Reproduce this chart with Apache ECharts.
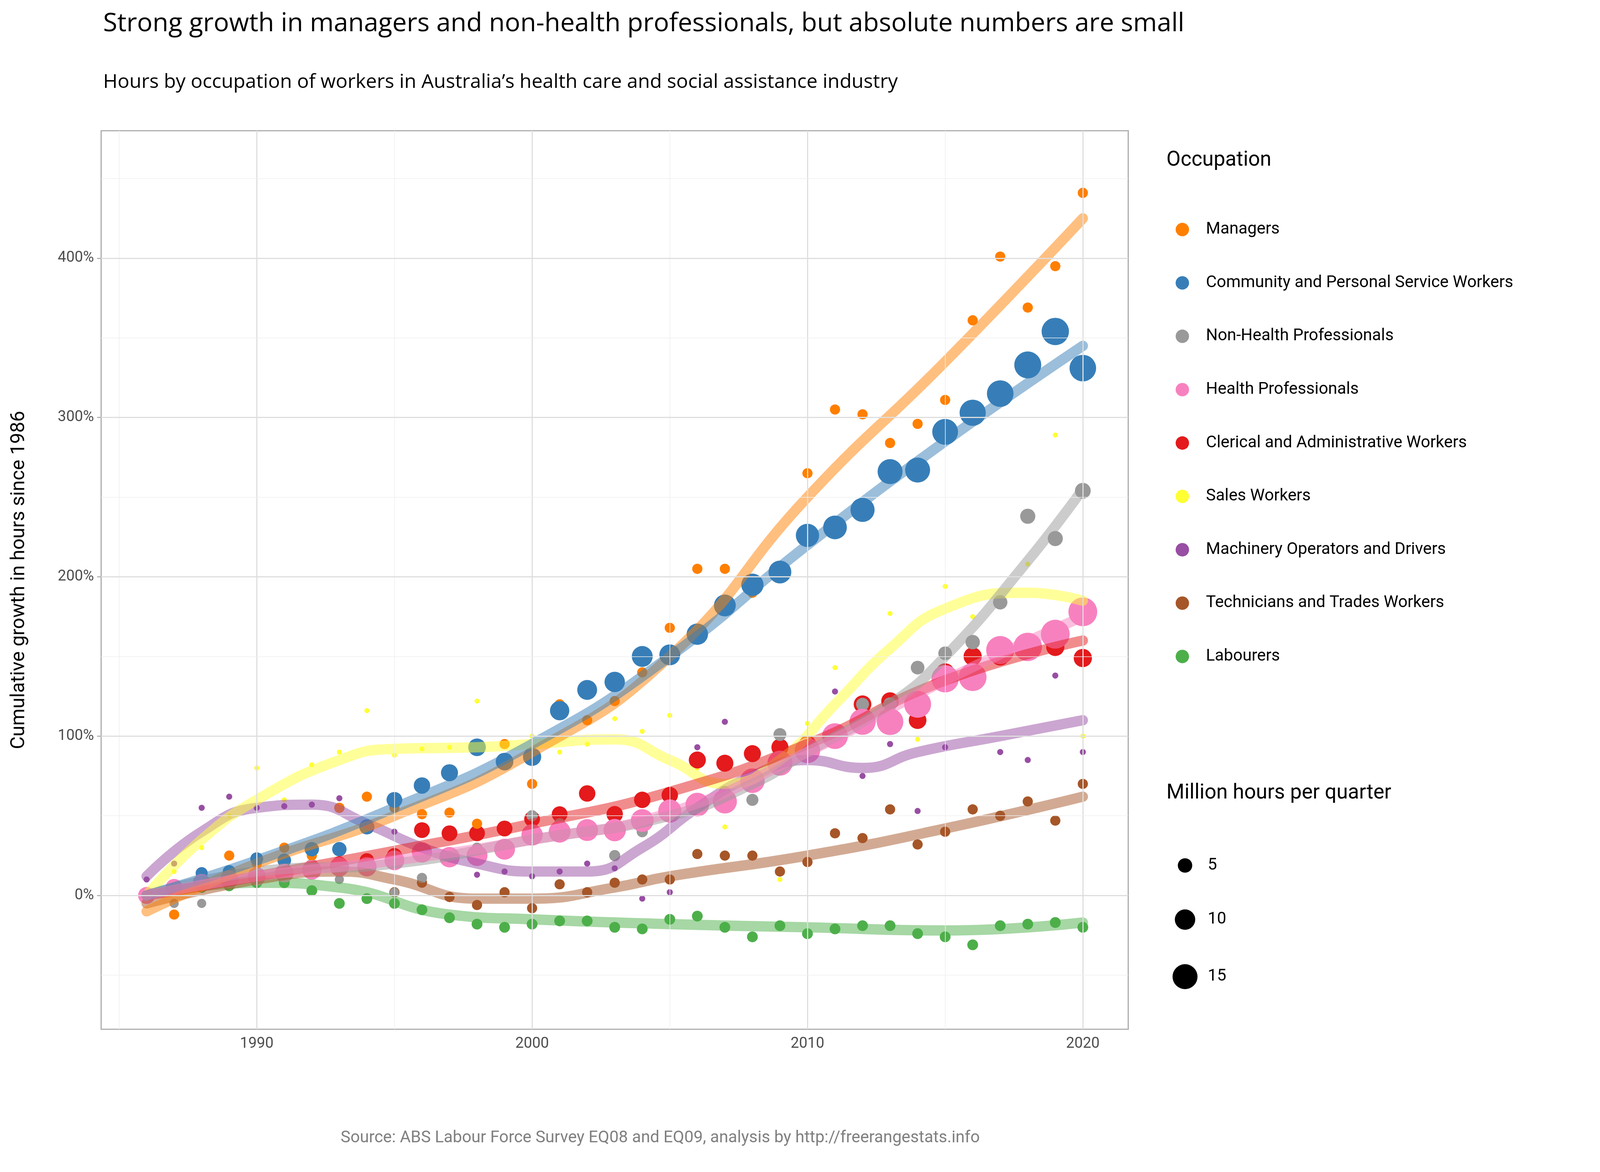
<!DOCTYPE html>
<html><head><meta charset="utf-8">
<script src="https://cdn.jsdelivr.net/npm/echarts@6/dist/echarts.min.js"></script>
<style>html,body{margin:0;padding:0;background:#fff;overflow:hidden}#c{width:100vw;height:100vh}</style>
</head><body><div id="c"></div>
<script>
var years = [];
for (var y = 1986; y <= 2020; y++) years.push(y);

var occupations = ['Managers','Community and Personal Service Workers','Non-Health Professionals','Health Professionals','Clerical and Administrative Workers','Sales Workers','Machinery Operators and Drivers','Technicians and Trades Workers','Labourers'];
var colors = ['#FF7F00','#377EB8','#999999','#F781BF','#E41A1C','#FFFF33','#984EA3','#A65628','#4DAF4A'];

// growth since 1986, %
var managers = [0,-12,10,25,20,30,25,55,62,55,51,52,45,95,70,120,110,122,140,168,205,205,190,200,265,305,302,284,296,311,361,401,369,395,441];
var community = [0,5,14,15,23,22,29,29,43,60,69,77,93,84,87,116,129,134,150,151,164,182,195,203,226,231,242,266,267,291,303,315,333,354,331];
var nonHealth = [0,-5,-5,10,20,22,20,10,20,2,11,25,30,84,50,45,40,25,40,55,60,65,60,101,95,100,120,120,143,152,159,184,238,224,254];
var health = [0,5,8,10,12,14,16,18,18,22,27,24,25,29,38,40,41,41,47,53,57,59,72,83,91,100,109,109,120,136,137,154,156,164,178];
var clerical = [0,5,8,10,12,15,18,20,22,25,41,39,39,42,48,51,64,51,60,63,85,83,89,93,95,100,120,122,110,140,150,150,155,156,149];
var sales = [0,15,30,50,80,60,82,90,116,88,92,93,122,95,100,90,95,111,103,113,80,43,70,10,108,143,105,177,98,194,175,185,208,289,100];
var machinery = [10,20,55,62,55,56,57,61,45,40,25,25,13,15,12,15,20,17,-2,2,93,109,70,85,85,128,75,95,53,93,155,90,85,138,90];
var technicians = [0,5,10,12,15,15,15,55,20,2,8,-1,-6,2,-8,7,2,8,10,10,26,25,25,15,21,39,36,54,32,40,54,50,59,47,70];
var labourers = [0,3,5,6,8,8,3,-5,-2,-5,-9,-14,-18,-20,-18,-16,-16,-20,-21,-15,-13,-20,-26,-19,-24,-21,-19,-19,-24,-26,-31,-19,-18,-17,-20];

// million hours per quarter
var sizeCommunity = [3,3,3.5,4,4,4.5,5,5,5.5,6,6.5,7,7.5,7.5,8,9,9.5,10,10.5,10.5,11,11.5,12,12.5,13,13.5,14,15,15,16,16.5,17,17.5,18,17];
var sizeHealth = [7,7,7.5,8,8,8.5,9,9,9,9.5,10,10,10.5,10.5,11,11.5,11.5,12,12.5,13,13.5,14,14.5,15,15.5,16,16.5,17,17.5,18,18.5,19,19.5,20,20];
var sizeClerical = [5,5,5,5,5,5,5,5,5,5.5,6,6,6,6,6,6,6.5,6.5,6.5,6.5,7,7,7,7,7,7.5,7.5,7.5,7.5,8,8,8,8,8,8];
var sizeNonHealth = [2,2,2,2,2,2,2,2,2,2,2.5,2.5,2.5,3,3,3,3,3,3,3.5,3.5,3.5,3.5,4,4,4,4,4.5,4.5,4.5,5,5,5.5,5.5,6];
var sizeConst = [2.5, null, null, null, null, 0.6, 0.9, 2.5, 2.8];

// smoothed trend: [year, %]
var trendManagers = [[1986,-10],[1990,20],[1995,50],[2000,90],[2005,150],[2010,250],[2015,335],[2020,425]];
var trendCommunity = [[1986,0],[1990,22],[1995,55],[2000,95],[2005,150],[2010,220],[2015,285],[2020,345]];
var trendNonHealth = [[1986,0],[1990,15],[1995,20],[2000,35],[2005,50],[2008,70],[2010,90],[2013,120],[2015,150],[2018,210],[2020,255]];
var trendHealth = [[1986,0],[1990,12],[1995,22],[2000,35],[2005,52],[2010,90],[2015,135],[2020,175]];
var trendClerical = [[1986,0],[1990,12],[1995,28],[2000,45],[2005,65],[2010,95],[2015,135],[2020,160]];
var trendSales = [[1986,0],[1988,35],[1990,60],[1993,85],[1995,92],[1998,93],[2000,95],[2003,98],[2005,85],[2007,70],[2009,85],[2011,120],[2013,155],[2015,180],[2018,190],[2020,185]];
var trendMachinery = [[1986,12],[1988,40],[1990,55],[1992,57],[1994,45],[1996,30],[1998,20],[2000,15],[2002,15],[2004,30],[2006,55],[2008,75],[2010,85],[2012,80],[2014,90],[2017,100],[2020,110]];
var trendTechnicians = [[1986,-5],[1990,10],[1993,15],[1995,10],[1998,-2],[2000,-2],[2003,5],[2005,12],[2010,25],[2015,42],[2020,62]];
var trendLabourers = [[1986,0],[1990,8],[1993,5],[1997,-12],[2000,-15],[2005,-18],[2010,-20],[2015,-22],[2020,-17]];

var xTicks = [1990,2000,2010,2020];
var xMinor = [1985,1995,2005,2015];
var yTicks = [0,100,200,300,400];
var yMinor = [-50,50,150,250,350,450];

var values = [managers,community,nonHealth,health,clerical,sales,machinery,technicians,labourers];
var sizes = [null,sizeCommunity,sizeNonHealth,sizeHealth,sizeClerical,null,null,null,null];
var trends = [trendManagers,trendCommunity,trendNonHealth,trendHealth,trendClerical,trendSales,trendMachinery,trendTechnicians,trendLabourers];

var dom = document.getElementById('c');
var W = dom.clientWidth, H = dom.clientHeight;
var S = W / 1550;       // layout measured on a 1550-wide copy
var V = H / 780;
function diam(v){ return 6.25 * S * Math.sqrt(v); }

var series = [];
var gl = [];
xTicks.forEach(function(v){ gl.push({xAxis:v, lineStyle:{color:'#dedede',width:1.1*S,type:'solid'}}); });
xMinor.forEach(function(v){ gl.push({xAxis:v, lineStyle:{color:'#efefef',width:0.6*S,type:'solid'}}); });
yTicks.forEach(function(v){ gl.push({yAxis:v, lineStyle:{color:'#dedede',width:1.1*S,type:'solid'}}); });
yMinor.forEach(function(v){ gl.push({yAxis:v, lineStyle:{color:'#efefef',width:0.6*S,type:'solid'}}); });
series.push({type:'line', data:[], silent:true, z:0,
  markLine:{silent:true, symbol:'none', label:{show:false}, animation:false, data:gl}});

var order = [8,7,6,5,4,2,0,1,3];
order.forEach(function(i){
  var pts = years.map(function(yr,k){
    var s = sizes[i] ? sizes[i][k] : sizeConst[i];
    return [yr, values[i][k], s];
  });
  series.push({name:occupations[i], type:'scatter', data:pts, z:3,
    symbolSize:function(d){ return diam(d[2]); },
    itemStyle:{color:colors[i], opacity:1}});
});
order.forEach(function(i){
  series.push({name:occupations[i], type:'line', data:trends[i], smooth:0.5, symbol:'none', z:4,
    lineStyle:{color:colors[i], width:10*S, opacity:0.5, cap:'round'}, itemStyle:{color:colors[i]}});
});

var sizeLegend = [[5,576],[10,612],[15,650]];
var graphic = [
  {type:'text', left:1130*S, top:100*V, style:{text:'Occupation', fontSize:20*S, fill:'#000', fontFamily:'Roboto'}},
  {type:'text', left:1130*S, top:521*V, style:{text:'Million hours per quarter', fontSize:20*S, fill:'#000', fontFamily:'Roboto'}},
  {type:'text', left:330*S, top:752*V, style:{text:'Source: ABS Labour Force Survey EQ08 and EQ09, analysis by http://freerangestats.info', fontSize:16*S, fill:'#808080', fontFamily:'Roboto'}}
];
sizeLegend.forEach(function(p){
  graphic.push({type:'circle', shape:{cx:1148*S, cy:p[1]*V, r:diam(p[0])/2}, style:{fill:'#000'}});
  graphic.push({type:'text', left:1170*S, top:p[1]*V-8*S, style:{text:String(p[0]), fontSize:16*S, fill:'#000', fontFamily:'Roboto'}});
});

var chart = echarts.init(dom);
chart.setOption({
  animation:false,
  backgroundColor:'#fff',
  textStyle:{fontFamily:'Roboto'},
  title:[
    {text:'Strong growth in managers and non-health professionals, but absolute numbers are small', left:98*S, top:6*V,
     textStyle:{fontFamily:'Open Sans', fontWeight:'normal', fontSize:25*S, color:'#000'}},
    {text:'Hours by occupation of workers in Australia\u2019s health care and social assistance industry', left:98*S, top:47*V,
     textStyle:{fontFamily:'Open Sans', fontWeight:'normal', fontSize:19*S, color:'#000'}}
  ],
  grid:{left:98*S, right:W-1093*S, top:87*V, bottom:H-685*V, show:true, borderColor:'#b3b3b3', borderWidth:1.3*S, backgroundColor:'transparent'},
  xAxis:{type:'value', min:1984.35, max:2021.65, splitLine:{show:false},
    axisLine:{show:false}, axisTick:{show:true, customValues:xTicks, length:4*S, lineStyle:{color:'#b3b3b3', width:1.1*S}},
    axisLabel:{customValues:xTicks, fontSize:14.5*S, color:'#4d4d4d', margin:7*S, formatter:function(v){return String(v);}}},
  yAxis:{type:'value', min:-84, max:480, splitLine:{show:false},
    name:'Cumulative growth in hours since 1986', nameLocation:'middle', nameGap:70*S,
    nameTextStyle:{fontSize:19*S, color:'#000'},
    axisLine:{show:false}, axisTick:{show:true, customValues:yTicks, length:4*S, lineStyle:{color:'#b3b3b3', width:1.1*S}},
    axisLabel:{customValues:yTicks, fontSize:14.5*S, color:'#4d4d4d', margin:7*S, formatter:function(v){return v+'%';}}},
  legend:{orient:'vertical', left:1137*S, top:146*V, itemWidth:18*S, itemHeight:13*S, itemGap:24.6*V,
    data:occupations.map(function(n){return {name:n, icon:'circle'};}),
    textStyle:{fontSize:16*S, color:'#000', padding:[0,0,0,12*S]}},
  graphic:graphic,
  series:series
});
</script></body></html>
